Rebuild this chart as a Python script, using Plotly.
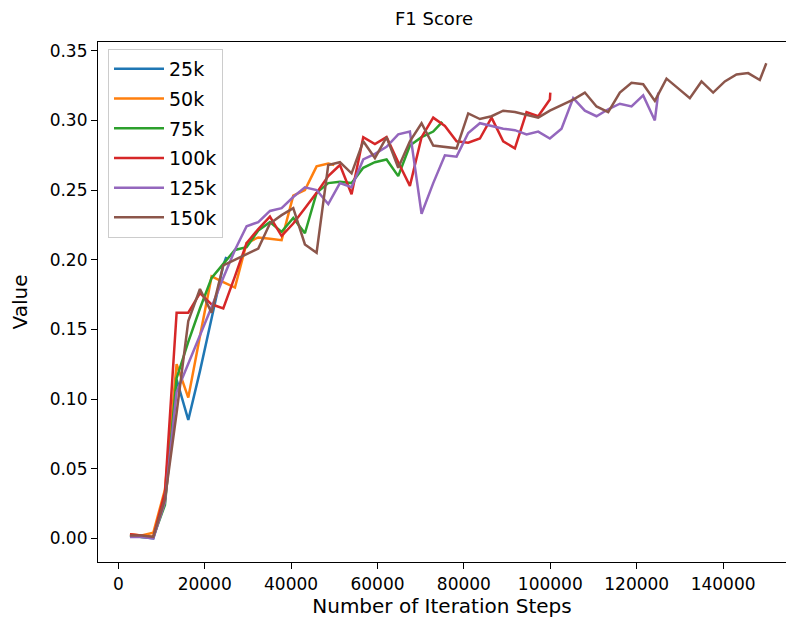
import plotly.graph_objects as go

# ---- data ----
EVAL_INTERVAL = 2700
run_labels = ["25k", "50k", "75k", "100k", "125k", "150k"]
run_lengths = [25000, 50000, 75000, 100000, 125000, 150000]
colors = ["#1f77b4", "#ff7f0e", "#2ca02c", "#d62728", "#9467bd", "#8c564b"]

f1_25k = [0.002, 0.001, 0.000, 0.028, 0.114, 0.085, 0.120, 0.158, 0.196, 0.202]

f1_50k = [0.003, 0.002, 0.004, 0.035, 0.125, 0.101, 0.145, 0.188, 0.184, 0.180,
          0.212, 0.216, 0.215, 0.214, 0.246, 0.250, 0.267, 0.269, 0.268]

f1_75k = [0.002, 0.001, 0.001, 0.024, 0.115, 0.141, 0.165, 0.187, 0.197, 0.207,
          0.209, 0.221, 0.227, 0.220, 0.230, 0.219, 0.248, 0.255, 0.256, 0.255,
          0.266, 0.270, 0.272, 0.260, 0.282, 0.288, 0.292, 0.299]

f1_100k = [0.003, 0.002, 0.001, 0.033, 0.162, 0.162, 0.176, 0.168, 0.165, 0.188,
           0.212, 0.222, 0.231, 0.217, 0.226, 0.237, 0.248, 0.260, 0.268, 0.247,
           0.288, 0.283, 0.288, 0.270, 0.253, 0.288, 0.302, 0.296, 0.285, 0.284,
           0.287, 0.302, 0.285, 0.280, 0.306, 0.303, 0.315, 0.320]

f1_125k = [0.001, 0.001, 0.000, 0.026, 0.105, 0.125, 0.145, 0.166, 0.187, 0.207,
           0.224, 0.227, 0.235, 0.237, 0.245, 0.252, 0.250, 0.240, 0.255, 0.252,
           0.272, 0.276, 0.281, 0.290, 0.292, 0.233, 0.255, 0.275, 0.274, 0.291,
           0.298, 0.296, 0.294, 0.293, 0.290, 0.292, 0.287, 0.294, 0.316, 0.307,
           0.303, 0.308, 0.312, 0.310, 0.318, 0.300, 0.320]

f1_150k = [0.002, 0.002, 0.001, 0.028, 0.090, 0.156, 0.179, 0.162, 0.196, 0.200,
           0.204, 0.208, 0.226, 0.232, 0.237, 0.211, 0.205, 0.268, 0.270, 0.262,
           0.285, 0.273, 0.288, 0.266, 0.285, 0.298, 0.282, 0.281, 0.280, 0.305,
           0.301, 0.303, 0.307, 0.306, 0.304, 0.302, 0.307, 0.311, 0.315, 0.320,
           0.310, 0.306, 0.320, 0.327, 0.326, 0.314, 0.330, 0.323, 0.316, 0.328,
           0.320, 0.328, 0.333, 0.334, 0.329, 0.341]

series_values = [f1_25k, f1_50k, f1_75k, f1_100k, f1_125k, f1_150k]

x_ticks = [0, 20000, 40000, 60000, 80000, 100000, 120000, 140000]
y_ticks = [0.00, 0.05, 0.10, 0.15, 0.20, 0.25, 0.30, 0.35]

# ---- figure ----
FONT = "DejaVu Sans"
fig = go.Figure()
for label, n, vals, col in zip(run_labels, run_lengths, series_values, colors):
    steps = list(range(EVAL_INTERVAL, n, EVAL_INTERVAL)) + [n]
    fig.add_trace(go.Scatter(x=steps, y=vals, mode="lines", name=label,
                             legendgroup=label,
                             line=dict(color=col, width=2.5)))

W, H = 786, 627
L, R, T, B = 98, 0, 42, 65
fig.update_layout(
    width=W, height=H,
    margin=dict(l=L, r=R, t=T, b=B, pad=0),
    paper_bgcolor="white", plot_bgcolor="white",
    font=dict(family=FONT, size=17, color="black"),
    title=dict(text="F1 Score", x=434 / W, xanchor="center", xref="container",
               y=1 - 19 / H, yanchor="middle", font=dict(size=18)),
    showlegend=True,
    legend=dict(x=(108 - L) / (W - L - R), y=1 - (49 - T) / (H - T - B),
                xanchor="left", yanchor="top",
                bgcolor="rgba(255,255,255,0.8)", bordercolor="#cccccc", borderwidth=1,
                font=dict(size=19), itemwidth=50, tracegroupgap=2),
)
fig.update_xaxes(range=[-4699, 154560], tickvals=x_ticks,
                 ticktext=[str(v) for v in x_ticks],
                 showgrid=False, zeroline=False, showline=True, mirror=True,
                 linecolor="black", linewidth=1.2, ticks="outside", ticklen=6,
                 tickcolor="black", title=dict(text="Number of Iteration Steps", standoff=6))
fig.update_yaxes(range=[-0.0170, 0.3563], tickvals=y_ticks,
                 ticktext=[f"{v:.2f}" for v in y_ticks],
                 showgrid=False, zeroline=False, showline=True, mirror=False,
                 linecolor="black", linewidth=1.2, ticks="outside", ticklen=6,
                 tickcolor="black", title=dict(text="Value", standoff=16))

fig.write_html("out.html")
